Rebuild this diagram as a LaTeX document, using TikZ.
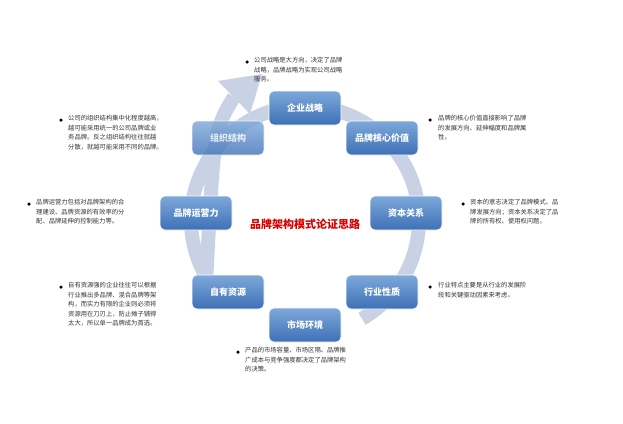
\documentclass[tikz,border=0pt]{standalone}
\usepackage{fontspec}
\newfontfamily\cjk{Noto Sans CJK SC}
\usetikzlibrary{arrows.meta}
\definecolor{ntop}{RGB}{125,168,218}
\definecolor{nbot}{RGB}{62,112,182}
\definecolor{ring}{RGB}{200,210,228}
\begin{document}
\begin{tikzpicture}[x=1pt,y=-1pt,
  stage/.style={draw=white,line width=0.6pt,rounded corners=5pt,minimum width=72pt,minimum height=34pt,
    top color=ntop,bottom color=nbot,text=white,font=\cjk\bfseries\fontsize{9}{10}\selectfont},
  note/.style={anchor=north west,align=left,inner sep=0pt,font=\cjk\fontsize{6.3}{9.5}\selectfont,text=black!80},
  dot/.style={circle,fill=black,inner sep=0pt,minimum size=3.5pt}]
\useasboundingbox (0,0) rectangle (623,423);
\fill[white] (0,0) rectangle (623,423);
\draw[ring,line width=14pt] (305,220) ++(60:114) arc[start angle=60,end angle=-210,radius=114]
  .. controls (214,130) .. (234,97);
\coordinate (tip) at (262,74);
\fill[ring] (tip) -- (218,81) -- (250,114) -- cycle;
\node[stage] (a) at (305,108) {企业战略};
\node[stage] (b) at (382,138) {品牌核心价值};
\node[stage] (c) at (406,213) {资本关系};
\node[stage] (d) at (382,292) {行业性质};
\node[stage] (e) at (305,325) {市场环境};
\node[stage] (f) at (228,292) {自有资源};
\node[stage] (g) at (196,213) {品牌运营力};
\node[stage,opacity=0.8] (h) at (228,138) {组织结构};
\node[font=\cjk\bfseries\fontsize{11}{12}\selectfont,text=red!85!black] (t) at (305,224) {品牌架构模式论证思路};
\node[dot] (d1) at (247,62) {}; \node[note] (n1) at (254,57) {公司战略是大方向，决定了品牌\\战略，品牌战略为实现公司战略\\服务。};
\node[dot] (d2) at (61,120) {}; \node[note] (n2) at (68,115) {公司的组织结构集中化程度越高，\\越可能采用统一的公司品牌或业\\务品牌。反之组织结构往往就越\\分散，就越可能采用不同的品牌。};
\node[dot] (d3) at (29,204) {}; \node[note] (n3) at (36,199) {品牌运营力包括对品牌架构的合\\理建设、品牌资源的有效率的分\\配、品牌延伸的控制能力等。};
\node[dot] (d4) at (61,287) {}; \node[note] (n4) at (68,282) {自有资源强的企业往往可以根据\\行业推出多品牌、混合品牌等架\\构，而实力有限的企业则必须将\\资源用在刀刃上，防止摊子铺得\\太大，所以单一品牌成为首选。};
\node[dot] (d5) at (238,352) {}; \node[note] (n5) at (245,347) {产品的市场容量、市场区隔、品牌推\\广成本与竞争强度都决定了品牌架构\\的决策。};
\node[dot] (d6) at (430,120) {}; \node[note] (n6) at (438,115) {品牌的核心价值直接影响了品牌\\的发展方向、延伸幅度和品牌属\\性。};
\node[dot] (d7) at (463,204) {}; \node[note] (n7) at (470,199) {资本的意志决定了品牌模式、品\\牌发展方向；资本关系决定了品\\牌的所有权、使用权问题。};
\node[dot] (d8) at (430,287) {}; \node[note] (n8) at (438,282) {行业特点主要是从行业的发展阶\\段和关键驱动因素来考虑。};
\end{tikzpicture}
\end{document}
